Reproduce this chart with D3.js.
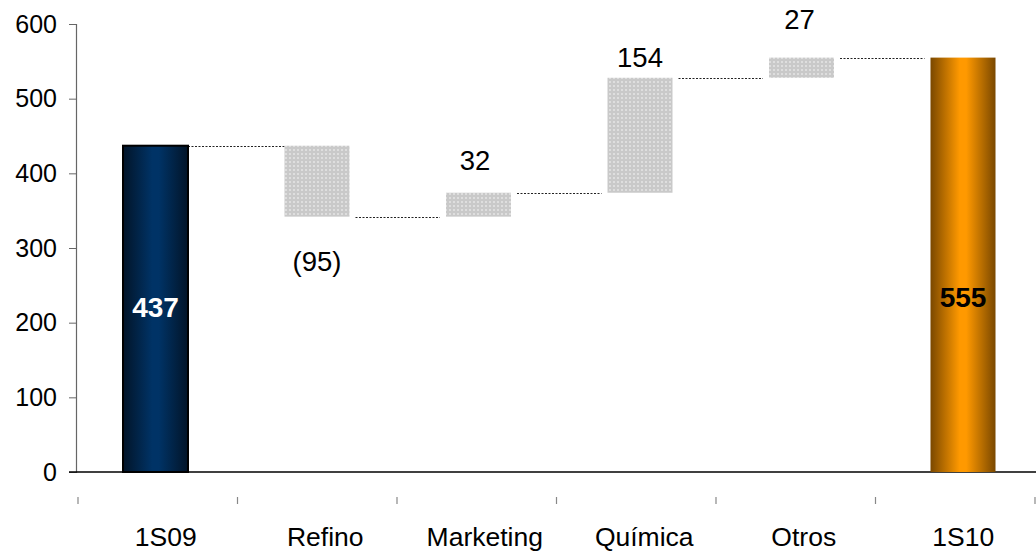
<!DOCTYPE html>
<html><head><meta charset="utf-8">
<script src="https://cdn.jsdelivr.net/npm/d3@7"></script>
<style>html,body{margin:0;padding:0;background:#fff;}svg{display:block;font-family:"Liberation Sans",Arial,sans-serif;}</style>
</head><body><svg id="c" width="1036" height="552"></svg>
<script>
const categories = ["1S09","Refino","Marketing","Química","Otros","1S10"];
const deltas = [437, -95, 32, 154, 27, 555];
const kinds = ["total","delta","delta","delta","delta","total"];
const labels = ["437","(95)","32","154","27","555"];
const yTicks = [0,100,200,300,400,500,600];

let run = 0;
const bars = categories.map((c,i)=>{
  let y0,y1;
  if(kinds[i]==="total"){ y0=0; y1=deltas[i]; run=deltas[i]; }
  else { y0=run; y1=run+deltas[i]; run=y1; }
  return {c, y0, y1, v:deltas[i], kind:kinds[i], label:labels[i], i};
});

const svg = d3.select("#c");
const defs = svg.append("defs");
function hgrad(id, edge, mid){
  const g = defs.append("linearGradient").attr("id",id).attr("x1","0").attr("x2","1").attr("y1","0").attr("y2","0");
  g.append("stop").attr("offset","0%").attr("stop-color",edge);
  g.append("stop").attr("offset","45%").attr("stop-color",mid);
  g.append("stop").attr("offset","55%").attr("stop-color",mid);
  g.append("stop").attr("offset","100%").attr("stop-color",edge);
}
hgrad("gNavy","#021428","#003366");
hgrad("gOrange","#7a4800","#ff9900");
const pat = defs.append("pattern").attr("id","dots").attr("patternUnits","userSpaceOnUse").attr("width",4).attr("height",4);
pat.append("rect").attr("width",4).attr("height",4).attr("fill","#c9c9c9");
pat.append("rect").attr("x",1).attr("y",1).attr("width",2).attr("height",2).attr("fill","#dedede");

// bar placement scale and separate tick-mark/label scale
const x = d3.scaleBand().domain(categories).range([74.75,1043.75]);
const xt = d3.scaleBand().domain(categories).range([78,1035]);
const y = d3.scaleLinear().domain([0,600]).range([472,24]);
const barW = 65;
const cx = d => x(d)+x.bandwidth()/2;

// y axis
const yAxis = svg.append("g").attr("transform","translate(76,0)")
  .call(d3.axisLeft(y).tickValues(yTicks).tickSize(7).tickPadding(12).tickFormat(d3.format("d")));
yAxis.select(".domain").attr("stroke","#666").attr("stroke-width",1.2);
yAxis.selectAll(".tick line").attr("stroke","#666");
yAxis.selectAll("text").attr("font-size",25).attr("fill","#000").attr("font-family","Liberation Sans, Arial, sans-serif");

// baseline
svg.append("line").attr("x1",69).attr("x2",1036).attr("y1",y(0)).attr("y2",y(0)).attr("stroke","#000").attr("stroke-width",1.5);

// category tick marks
const xb = xt.domain().map(d=>xt(d)).concat([xt(categories[categories.length-1])+xt.bandwidth()]);
svg.append("g").selectAll("line").data(xb).join("line")
  .attr("x1",d=>d).attr("x2",d=>d).attr("y1",497).attr("y2",504).attr("stroke","#888").attr("stroke-width",1.2);
// category labels
svg.append("g").selectAll("text").data(categories).join("text")
  .attr("x",d=>xt(d)+xt.bandwidth()/2+8).attr("y",546).attr("text-anchor","middle")
  .attr("font-size",26.5).attr("fill","#000").text(d=>d);

// connectors
const conn = bars.slice(0,-1).map((b,i)=>({from:b, to:bars[i+1], level:b.y1, i}));
svg.append("g").selectAll("line").data(conn).join("line")
  .attr("x1",d=>cx(d.from.c)+barW/2+(d.i===0?0:6))
  .attr("x2",d=>cx(d.to.c)-barW/2-(d.i===0?0:6))
  .attr("y1",d=>Math.round(y(d.level))+0.5).attr("y2",d=>Math.round(y(d.level))+0.5)
  .attr("stroke","#222").attr("stroke-width",1).attr("stroke-dasharray","2,1.5");

// bars
svg.append("g").selectAll("rect").data(bars).join("rect")
  .attr("x",d=>cx(d.c)-barW/2)
  .attr("width",barW)
  .attr("y",d=>y(Math.max(d.y0,d.y1)))
  .attr("height",d=>Math.abs(y(d.y0)-y(d.y1)))
  .attr("fill",d=>d.kind==="delta"?"url(#dots)":(d.i===0?"url(#gNavy)":"url(#gOrange)"))
  .attr("stroke",d=>d.i===0?"#000":"none").attr("stroke-width",2);

// labels
const labelDy = [-2, 45, -32, -20, -38, 32];
const labelDx = [0, 0, -3.5, 0, -2, 0];
svg.append("g").selectAll("text").data(bars).join("text")
  .attr("x",d=>cx(d.c)+labelDx[d.i])
  .attr("y",d=> d.kind==="total" ? y(d.y1/2)+labelDy[d.i] : y(d.y1)+labelDy[d.i])
  .attr("dy","0.35em")
  .attr("text-anchor","middle")
  .attr("font-size",d=>d.kind==="total"?28:27.5)
  .attr("font-weight",d=>d.kind==="total"?"bold":"normal")
  .attr("fill",d=>d.i===0?"#fff":"#000")
  .text(d=>d.label);
</script></body></html>
